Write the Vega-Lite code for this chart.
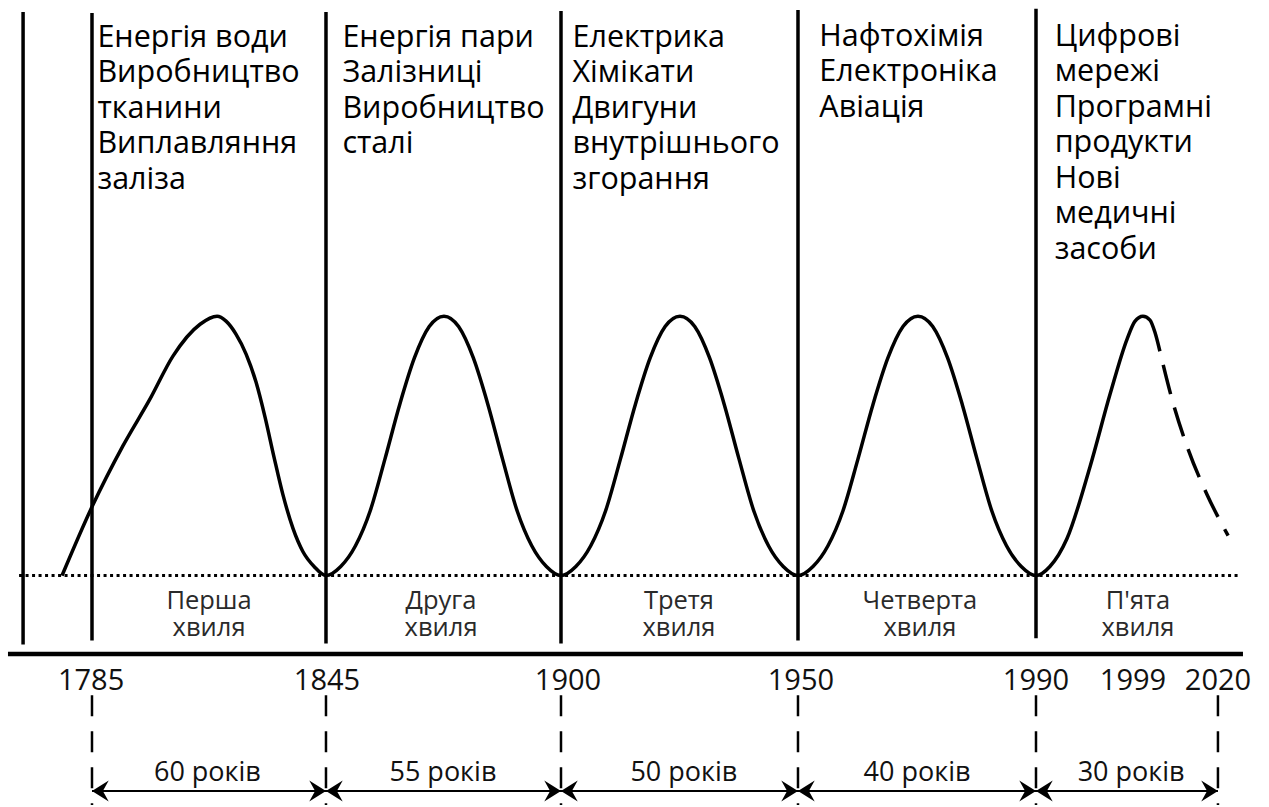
{
  "$schema": "https://vega.github.io/schema/vega-lite/v6.json",
  "width": 1269,
  "height": 807,
  "padding": 0,
  "autosize": {"type": "fit", "contains": "padding"},
  "background": "white",
  "config": {"view": {"stroke": null}},
  "datasets": {
    "vlines": [
      {"x": -0.292, "y": 2.173, "y2": -0.266},
      {"x": 0, "y": 2.169, "y2": -0.25},
      {"x": 0.9915, "y": 2.173, "y2": -0.262},
      {"x": 1.9873, "y": 2.177, "y2": -0.262},
      {"x": 2.9915, "y": 2.181, "y2": -0.25},
      {"x": 4.0, "y": 2.185, "y2": -0.242}
    ],
    "hline": [{"x": -0.356, "x2": 4.877, "y": -0.302}],
    "baseline": [{"x": -0.309, "x2": 4.864, "y": 0}],
    "wave": [
      {"x": -0.127, "y": 0}, {"x": 0, "y": 0.265}, {"x": 0.131, "y": 0.5}, {"x": 0.246, "y": 0.681},
      {"x": 0.343, "y": 0.846}, {"x": 0.458, "y": 0.969}, {"x": 0.53, "y": 1.0}, {"x": 0.568, "y": 0.981},
      {"x": 0.61, "y": 0.931}, {"x": 0.653, "y": 0.854}, {"x": 0.695, "y": 0.746}, {"x": 0.733, "y": 0.612},
      {"x": 0.771, "y": 0.458}, {"x": 0.809, "y": 0.312}, {"x": 0.852, "y": 0.181}, {"x": 0.894, "y": 0.092},
      {"x": 0.941, "y": 0.035}, {"x": 0.9915, "y": 0},
      {"x": 1.054, "y": 0.035}, {"x": 1.1165, "y": 0.115}, {"x": 1.179, "y": 0.25}, {"x": 1.2415, "y": 0.45},
      {"x": 1.304, "y": 0.66}, {"x": 1.3665, "y": 0.84}, {"x": 1.429, "y": 0.96}, {"x": 1.4915, "y": 1.0},
      {"x": 1.5534, "y": 0.96}, {"x": 1.6155, "y": 0.84}, {"x": 1.6775, "y": 0.66}, {"x": 1.7394, "y": 0.45},
      {"x": 1.8013, "y": 0.25}, {"x": 1.8633, "y": 0.115}, {"x": 1.9254, "y": 0.035}, {"x": 1.9873, "y": 0},
      {"x": 2.0503, "y": 0.035}, {"x": 2.1134, "y": 0.115}, {"x": 2.1764, "y": 0.25}, {"x": 2.2394, "y": 0.45},
      {"x": 2.3024, "y": 0.66}, {"x": 2.3655, "y": 0.84}, {"x": 2.4285, "y": 0.96}, {"x": 2.4915, "y": 1.0},
      {"x": 2.554, "y": 0.96}, {"x": 2.6165, "y": 0.84}, {"x": 2.679, "y": 0.66}, {"x": 2.7415, "y": 0.45},
      {"x": 2.804, "y": 0.25}, {"x": 2.8665, "y": 0.115}, {"x": 2.929, "y": 0.035}, {"x": 2.9915, "y": 0},
      {"x": 3.0551, "y": 0.035}, {"x": 3.1186, "y": 0.115}, {"x": 3.1822, "y": 0.25}, {"x": 3.2458, "y": 0.45},
      {"x": 3.3093, "y": 0.66}, {"x": 3.3729, "y": 0.84}, {"x": 3.4364, "y": 0.96}, {"x": 3.5, "y": 1.0},
      {"x": 3.5625, "y": 0.96}, {"x": 3.625, "y": 0.84}, {"x": 3.6875, "y": 0.66}, {"x": 3.75, "y": 0.45},
      {"x": 3.8125, "y": 0.25}, {"x": 3.875, "y": 0.115}, {"x": 3.9375, "y": 0.035}, {"x": 4.0, "y": 0},
      {"x": 4.059, "y": 0.035}, {"x": 4.131, "y": 0.142}, {"x": 4.229, "y": 0.42}, {"x": 4.314, "y": 0.7},
      {"x": 4.386, "y": 0.912}, {"x": 4.419, "y": 0.98}, {"x": 4.453, "y": 1.0}, {"x": 4.483, "y": 0.985},
      {"x": 4.504, "y": 0.938}, {"x": 4.525, "y": 0.865}
    ],
    "waveForecast": [
      {"x": 4.525, "y": 0.865}, {"x": 4.576, "y": 0.681}, {"x": 4.644, "y": 0.488},
      {"x": 4.725, "y": 0.312}, {"x": 4.814, "y": 0.154}
    ],
    "dashv": [
      {"x": 0, "y": -0.4615, "y2": -0.8846},
      {"x": 0.9915, "y": -0.4615, "y2": -0.8846},
      {"x": 1.9873, "y": -0.4615, "y2": -0.8846},
      {"x": 2.9915, "y": -0.4615, "y2": -0.8846},
      {"x": 4.0, "y": -0.4615, "y2": -0.8846},
      {"x": 4.771, "y": -0.4615, "y2": -0.8846}
    ],
    "arrowline": [{"x": 0, "x2": 4.771, "y": -0.8308}],
    "headsLeft": [
      {"x": 0, "y": -0.8308}, {"x": 0.9915, "y": -0.8308}, {"x": 1.9873, "y": -0.8308},
      {"x": 2.9915, "y": -0.8308}, {"x": 4.0, "y": -0.8308}
    ],
    "headsRight": [
      {"x": 0.9915, "y": -0.8308}, {"x": 1.9873, "y": -0.8308}, {"x": 2.9915, "y": -0.8308},
      {"x": 4.0, "y": -0.8308}, {"x": 4.771, "y": -0.8308}
    ],
    "topLabels": [
      {"x": 0.023, "y": 2.038, "label": "Енергія води\nВиробництво\nтканини\nВиплавляння\nзаліза"},
      {"x": 1.061, "y": 2.038, "label": "Енергія пари\nЗалізниці\nВиробництво\nсталі"},
      {"x": 2.036, "y": 2.038, "label": "Електрика\nХімікати\nДвигуни\nвнутрішнього\nзгорання"},
      {"x": 3.082, "y": 2.042, "label": "Нафтохімія\nЕлектроніка\nАвіація"},
      {"x": 4.079, "y": 2.042, "label": "Цифрові\nмережі\nПрограмні\nпродукти\nНові\nмедичні\nзасоби"}
    ],
    "waveLabels": [
      {"x": 0.496, "y": -0.127, "label": "Перша\nхвиля"},
      {"x": 1.479, "y": -0.127, "label": "Друга\nхвиля"},
      {"x": 2.487, "y": -0.127, "label": "Третя\nхвиля"},
      {"x": 3.508, "y": -0.127, "label": "Четверта\nхвиля"},
      {"x": 4.432, "y": -0.127, "label": "П'ята\nхвиля"}
    ],
    "years": [
      {"x": -0.004, "y": -0.4423, "label": "1785"},
      {"x": 0.9958, "y": -0.4423, "label": "1845"},
      {"x": 2.017, "y": -0.4423, "label": "1900"},
      {"x": 3.004, "y": -0.4423, "label": "1950"},
      {"x": 4.0, "y": -0.4423, "label": "1990"},
      {"x": 4.411, "y": -0.4423, "label": "1999"},
      {"x": 4.771, "y": -0.4423, "label": "2020"}
    ],
    "durations": [
      {"x": 0.489, "y": -0.792, "label": "60 років"},
      {"x": 1.487, "y": -0.792, "label": "55 років"},
      {"x": 2.508, "y": -0.792, "label": "50 років"},
      {"x": 3.496, "y": -0.792, "label": "40 років"},
      {"x": 4.403, "y": -0.792, "label": "30 років"}
    ]
  },
  "encoding": {
    "x": {"field": "x", "type": "quantitative", "axis": null,
          "scale": {"domain": [-0.3898, 4.9873], "nice": false, "zero": false}},
    "y": {"field": "y", "type": "quantitative", "axis": null,
          "scale": {"domain": [-0.8846, 2.2192], "nice": false, "zero": false}}
  },
  "layer": [
    {
      "data": {"name": "vlines"},
      "mark": {"type": "rule", "color": "black", "strokeWidth": 3.5},
      "encoding": {"y2": {"field": "y2"}}
    },
    {
      "data": {"name": "hline"},
      "mark": {"type": "rule", "color": "black", "strokeWidth": 4.5},
      "encoding": {"x2": {"field": "x2"}}
    },
    {
      "data": {"name": "baseline"},
      "mark": {"type": "rule", "color": "black", "strokeWidth": 3, "strokeDash": [3, 3.5]},
      "encoding": {"x2": {"field": "x2"}}
    },
    {
      "data": {"name": "wave"},
      "mark": {"type": "line", "color": "black", "strokeWidth": 3.5, "interpolate": "monotone"},
      "encoding": {}
    },
    {
      "data": {"name": "waveForecast"},
      "mark": {"type": "line", "color": "black", "strokeWidth": 3.5, "interpolate": "monotone",
               "strokeDash": [30, 14], "strokeDashOffset": 30},
      "encoding": {}
    },
    {
      "data": {"name": "dashv"},
      "mark": {"type": "rule", "color": "black", "strokeWidth": 2.5, "strokeDash": [21, 15]},
      "encoding": {"y2": {"field": "y2"}}
    },
    {
      "data": {"name": "arrowline"},
      "mark": {"type": "rule", "color": "black", "strokeWidth": 2},
      "encoding": {"x2": {"field": "x2"}}
    },
    {
      "data": {"name": "headsLeft"},
      "mark": {"type": "point", "shape": "M0,0L2,-1.25L1.3,0L2,1.25Z", "size": 280,
               "filled": true, "color": "black", "opacity": 1, "strokeWidth": 1}
    },
    {
      "data": {"name": "headsRight"},
      "mark": {"type": "point", "shape": "M0,0L-2,-1.25L-1.3,0L-2,1.25Z", "size": 280,
               "filled": true, "color": "black", "opacity": 1, "strokeWidth": 1}
    },
    {
      "data": {"name": "topLabels"},
      "mark": {"type": "text", "font": "Open Sans", "fontSize": 30.5, "align": "left",
               "baseline": "alphabetic", "lineBreak": "\n", "lineHeight": 35.5, "color": "#000"},
      "encoding": {"text": {"field": "label"}}
    },
    {
      "data": {"name": "waveLabels"},
      "mark": {"type": "text", "font": "Open Sans", "fontSize": 25.5, "align": "center",
               "baseline": "alphabetic", "lineBreak": "\n", "lineHeight": 27, "color": "#2a2a2a"},
      "encoding": {"text": {"field": "label"}}
    },
    {
      "data": {"name": "years"},
      "mark": {"type": "text", "font": "Open Sans", "fontSize": 29, "align": "center",
               "baseline": "alphabetic", "color": "#111"},
      "encoding": {"text": {"field": "label"}}
    },
    {
      "data": {"name": "durations"},
      "mark": {"type": "text", "font": "Open Sans", "fontSize": 27, "align": "center",
               "baseline": "alphabetic", "color": "#111"},
      "encoding": {"text": {"field": "label"}}
    }
  ]
}
